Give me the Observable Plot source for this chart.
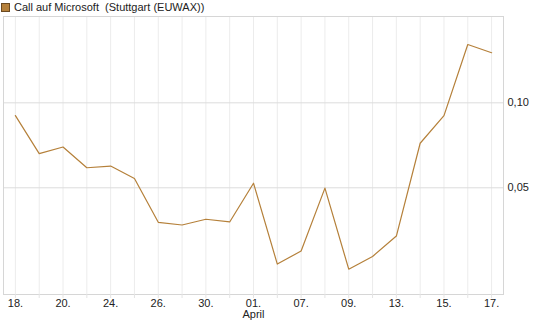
<!DOCTYPE html>
<html>
<head>
<meta charset="utf-8">
<script src="https://cdn.jsdelivr.net/npm/d3@7"></script>
<script src="https://cdn.jsdelivr.net/npm/@observablehq/plot@0.6"></script>
<style>
  html, body { margin: 0; padding: 0; background: #fff; }
  #wrap { position: relative; width: 545px; height: 327px; font-family: "Liberation Sans", Arial, sans-serif; }
  #legend { position: absolute; left: 1px; top: 2px; font-size: 11px; line-height: 11px; color: #222; display: flex; align-items: center; white-space: pre; }
  #legend .sw { width: 7px; height: 7px; background: #b5803a; border: 1px solid #6b4a22; margin-right: 4px; }
  svg { display: block; }
</style>
</head>
<body>
<div id="wrap">
  <div id="legend"><span class="sw"></span><span>Call auf Microsoft  (Stuttgart (EUWAX))</span></div>
</div>
<script>
const days = ["18.","19.","20.","23.","24.","25.","26.","27.","30.","31.","01.","02.","07.","08.","09.","10.","13.","14.","15.","16.","17."];
const prices = [0.0925,0.0701,0.0740,0.0618,0.0628,0.0555,0.0297,0.0281,0.0315,0.0299,0.0527,0.0051,0.0128,0.0498,0.0021,0.0096,0.0216,0.0762,0.0925,0.1343,0.1295];
const yTicks = [0.05, 0.10];
const monthLabels = {"01.": "April"};

const data = days.map((d, i) => ({day: d, value: prices[i]}));

const chart = Plot.plot({
  width: 545,
  height: 327,
  marginTop: 16,
  marginLeft: 3,
  marginRight: 42,
  marginBottom: 33,
  style: {fontFamily: "Liberation Sans, Arial, sans-serif", fontSize: "11px", color: "#222", background: "#fff"},
  x: {type: "point", domain: days, padding: 0.5, round: false},
  y: {domain: [-0.0128, 0.1508]},
  marks: [
    Plot.gridX(days, {stroke: "#ececec", strokeOpacity: 1}),
    Plot.gridY(yTicks, {stroke: "#dcdcdc", strokeOpacity: 1}),
    Plot.frame({stroke: "#d6d6d6"}),
    Plot.axisX({
      ticks: days,
      tickSize: 4,
      tickPadding: 1,
      stroke: "#e4e4e4",
      fill: "#222",
      tickFormat: (d) => {
        const i = days.indexOf(d);
        if (i % 2 !== 0) return "";
        return monthLabels[d] ? d + "\n" + monthLabels[d] : d;
      },
      label: null
    }),
    Plot.axisY({
      anchor: "right",
      ticks: yTicks,
      tickSize: 0,
      tickPadding: 4,
      fill: "#222",
      tickFormat: (d) => d.toFixed(2).replace(".", ","),
      label: null
    }),
    Plot.line(data, {x: "day", y: "value", stroke: "#b5803a", strokeWidth: 1.2})
  ]
});
document.getElementById("wrap").appendChild(chart);
</script>
</body>
</html>
